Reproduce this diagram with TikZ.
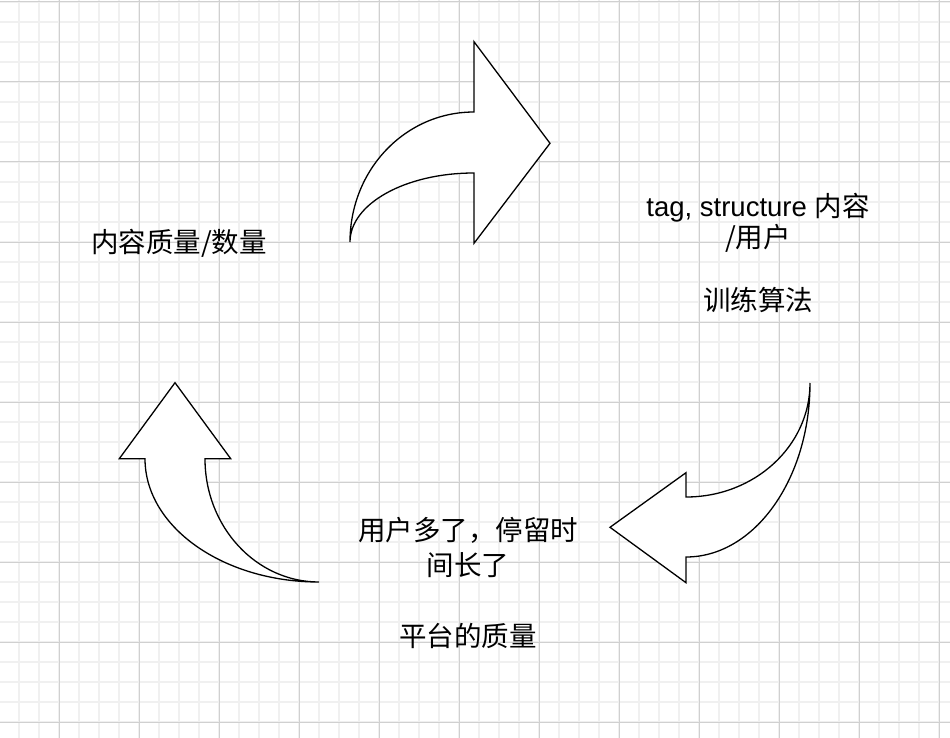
\documentclass[tikz,border=0pt]{standalone}
\usepackage{fontspec}
\setmainfont{Liberation Sans}
\newfontfamily\cjk{Noto Sans CJK SC}
\definecolor{gridminor}{RGB}{240,240,240}
\definecolor{gridmajor}{RGB}{208,208,208}
\begin{document}
\begin{tikzpicture}[x=1pt,y=-1pt,
  minorline/.style={draw=gridminor,line width=1.4pt},
  majorline/.style={draw=gridmajor,line width=1pt},
  arrowshape/.style={draw=black,fill=white,line width=1.3pt,line join=miter},
  lbl/.style={inner sep=0pt,align=center,text=black}]
\useasboundingbox (0,0) rectangle (950,738);
\fill[white] (0,0) rectangle (950,738);
% grid
\foreach \x in {-1,19,...,939} \draw[minorline] (\x,0) -- (\x,738);
\foreach \y in {2,22,...,722} \draw[minorline] (0,\y) -- (950,\y);
\foreach \x in {59,139,...,939} \draw[majorline] (\x,0) -- (\x,738);
\foreach \y in {2,82,...,722} \draw[majorline] (0,\y) -- (950,\y);
% top curved arrow
\draw[arrowshape] (350,242) .. controls (350,170) and (405,112) .. (474,112)
  -- (474,41.7) -- (550,143.3) -- (474,243.3) -- (474,173)
  .. controls (405,173) and (350,204) .. (350,242) -- cycle;
% right curved arrow
\draw[arrowshape] (810,383) .. controls (810,446) and (754.5,497) .. (686,497)
  -- (686,472.7) -- (610,527.3) -- (686,582.7) -- (686,557)
  .. controls (754.5,557) and (810,479) .. (810,383) -- cycle;
% left curved arrow
\draw[arrowshape] (319,582) .. controls (223,582) and (145,526.8) .. (145,458.7)
  -- (119.3,458.7) -- (175,382.7) -- (230.7,458.7) -- (205,458.7)
  .. controls (205,526.8) and (256,582) .. (319,582) -- cycle;
% labels
\node[lbl, font=\cjk\fontsize{27.5}{33}\selectfont] (quality) at (179,243) {内容质量/数量};
\node[lbl, font=\fontsize{27.5}{31.5}\selectfont] (tagging) at (758,253)
  {tag, structure {\cjk 内容}\\{\cjk /用户}\\~\\{\cjk 训练算法}};
\node[lbl, font=\cjk\fontsize{27.5}{35.2}\selectfont] (users) at (468,583)
  {用户多了，停留时\\间长了\\~\\平台的质量};
\end{tikzpicture}
\end{document}
